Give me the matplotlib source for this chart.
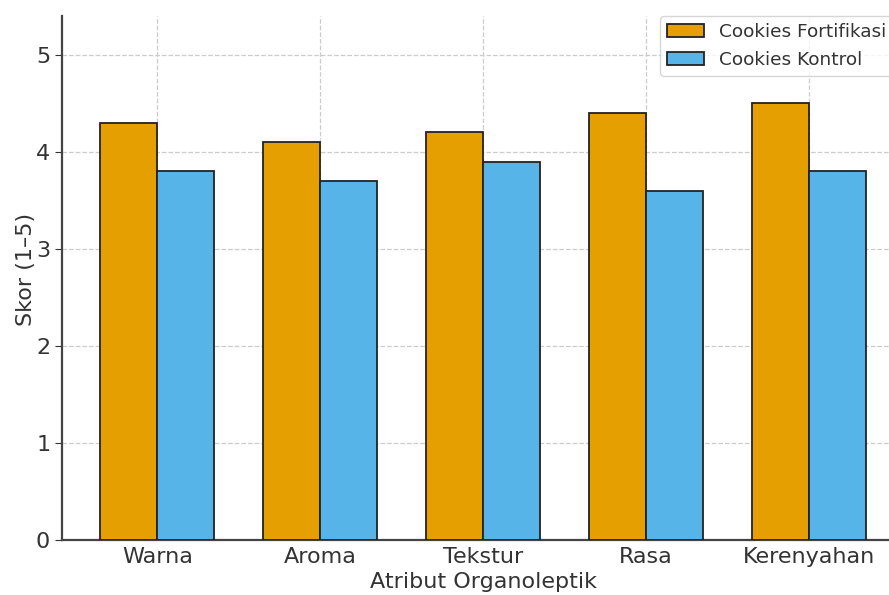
import matplotlib
matplotlib.use("Agg")
import matplotlib.pyplot as plt
import numpy as np

categories = ["Warna", "Aroma", "Tekstur", "Rasa", "Kerenyahan"]
fortifikasi = [4.3, 4.1, 4.2, 4.4, 4.5]
kontrol = [3.8, 3.7, 3.9, 3.6, 3.8]
series_labels = ["Cookies Fortifikasi", "Cookies Kontrol"]

plt.rcParams['font.family'] = ['DejaVu Sans']
txt = '#333333'

fig = plt.figure(figsize=(8.89, 5.95), dpi=100)
ax = fig.add_axes([62/889, 55/595, 842/889, 524/595])

x = np.arange(len(categories))
w = 0.35
ax.bar(x - w/2, fortifikasi, w, color='#E69F00', edgecolor='#222222', linewidth=1.3,
       label=series_labels[0], zorder=3)
ax.bar(x + w/2, kontrol, w, color='#56B4E9', edgecolor='#222222', linewidth=1.3,
       label=series_labels[1], zorder=3)

ax.set_xticks(x)
ax.set_xticklabels(categories, fontsize=16, color=txt)
ax.set_yticks([0, 1, 2, 3, 4, 5])
ax.tick_params(axis='y', labelsize=16, labelcolor=txt, color='#333333', length=5)
ax.tick_params(axis='x', length=0, pad=5)
ax.set_ylim(0, 5.4)
ax.set_xlim(-0.585, 4.585)
ax.set_xlabel("Atribut Organoleptik", fontsize=16, color=txt, labelpad=4)
ax.set_ylabel("Skor (1–5)", fontsize=16, color=txt)
ax.yaxis.set_label_coords(-0.031, 0.517)

ax.grid(True, linestyle='--', color='#cccccc', linewidth=0.9, zorder=0)
for s in ['top', 'right']:
    ax.spines[s].set_visible(False)
for s in ['left', 'bottom']:
    ax.spines[s].set_color('#444444')
    ax.spines[s].set_linewidth(1.6)

leg = ax.legend(loc='upper left', fontsize=13.3, frameon=True, borderaxespad=0,
                bbox_to_anchor=(660/889, 1 - 16/595), bbox_transform=fig.transFigure)
leg.get_frame().set_edgecolor('#cccccc')
for t in leg.get_texts():
    t.set_color(txt)

fig.savefig("out.png", dpi=100)
